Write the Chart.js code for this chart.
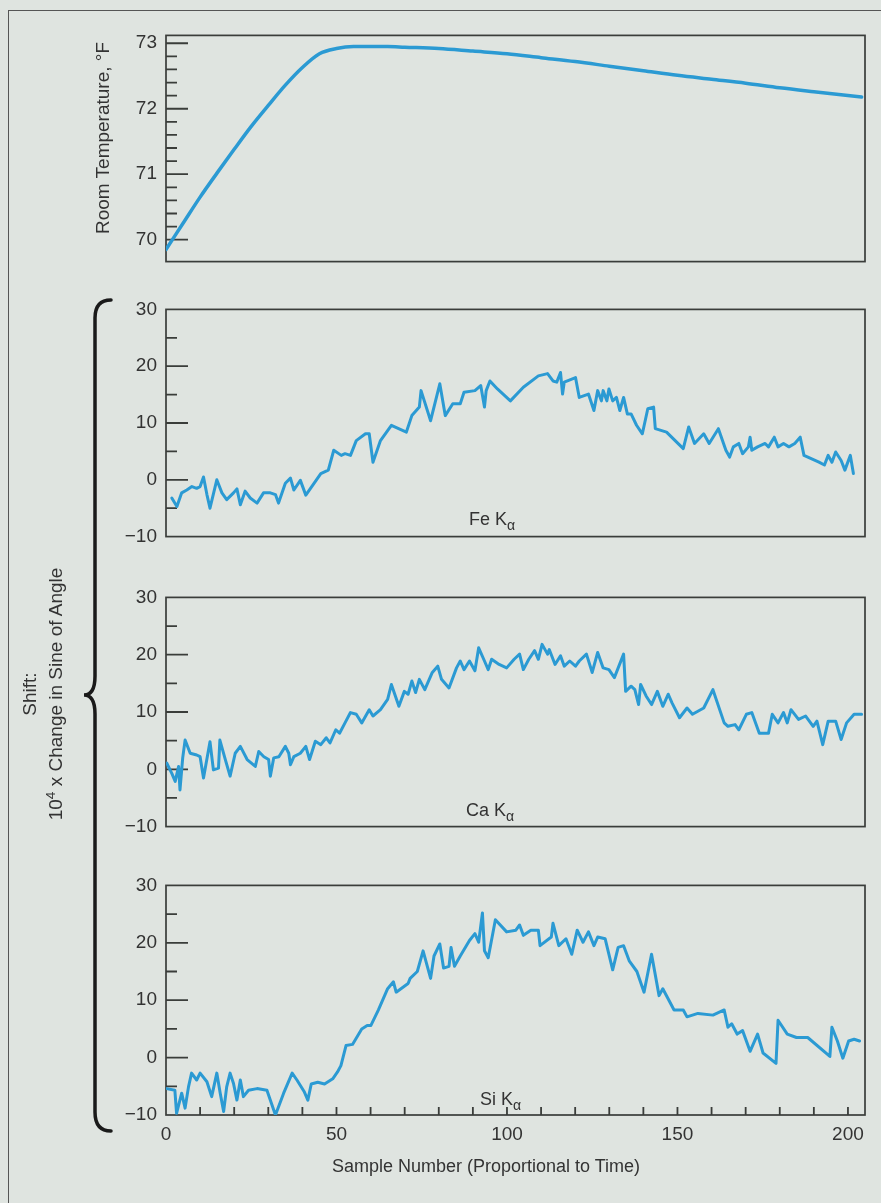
<!DOCTYPE html>
<html>
<head>
<meta charset="utf-8">
<script src="https://cdn.jsdelivr.net/npm/chart.js@4.4.0/dist/chart.umd.min.js"></script>
<style>
  html, body { margin:0; padding:0; width:881px; height:1203px; overflow:hidden; background:#dfe4e0;
    font-family:"Liberation Sans", Arial, Helvetica, sans-serif; color:#333; }
  #frame { position:absolute; left:8px; top:10px; width:900px; height:1260px;
    border-left:1.5px solid #555; border-top:1.5px solid #555; }
  canvas { position:absolute; }
  .t { position:absolute; white-space:nowrap; color:#333; line-height:18px; font-size:18px; }
  .rot { transform:translate(-50%,-50%) rotate(-90deg); line-height:20px; font-size:19px; }
  sub { font-size:0.78em; vertical-align:-0.38em; line-height:0; }
  sup { font-size:0.72em; vertical-align:0.5em; line-height:0; }
  #brace { position:absolute; left:0; top:0; }
</style>
</head>
<body>
<div id="frame"></div>

<canvas id="cTemp" width="781" height="267" style="left:100px;top:15px;width:781px;height:267px"></canvas>
<canvas id="cFe" width="781" height="268" style="left:100px;top:289px;width:781px;height:268px"></canvas>
<canvas id="cCa" width="781" height="270" style="left:100px;top:577px;width:781px;height:270px"></canvas>
<canvas id="cSi" width="781" height="290" style="left:100px;top:865px;width:781px;height:290px"></canvas>

<svg id="brace" width="881" height="1203">
  <path d="M 111 300 Q 95 300 95 318 L 95 676 Q 95 695 84 695 Q 95 695 95 714 L 95 1112 Q 95 1131 111 1131"
        fill="none" stroke="#1a1a1a" stroke-width="3.5" stroke-linecap="round"/>
</svg>

<div class="t rot" style="left:103px;top:138px;">Room Temperature, °F</div>
<div class="t rot" style="left:30px;top:694px;">Shift:</div>
<div class="t rot" style="left:56px;top:694px;">10<sup>4</sup> x Change in Sine of Angle</div>

<div class="t" style="left:469px;top:510px;">Fe K<sub>α</sub></div>
<div class="t" style="left:466px;top:801px;">Ca K<sub>α</sub></div>
<div class="t" style="left:480px;top:1090px;">Si K<sub>α</sub></div>

<div class="t" style="left:332px;top:1156px;line-height:20px;">Sample Number (Proportional to Time)</div>

<script>
// ---------- axis ticks / labels ----------
const sampleTicks = [0, 50, 100, 150, 200];
const sampleTickLabels = ['0', '50', '100', '150', '200'];
const sampleMarks = [10,20,30,40,50,60,70,80,90,100,110,120,130,140,150,160,170,180,190,200];

const tempTicks = [70, 71, 72, 73];
const tempTickLabels = ['70', '71', '72', '73'];
const tempMinor = [70.2,70.4,70.6,70.8,71.2,71.4,71.6,71.8,72.2,72.4,72.6,72.8];

const shiftTicks = [-10, 0, 10, 20, 30];
const shiftTickLabels = ['\u221210', '0', '10', '20', '30'];
const shiftMajor = [0, 10, 20];
const shiftMinor = [-5, 5, 15, 25];

// ---------- data ----------
const tempX = [0,5,10,15,20,25,30,35,40,45,50,55,60,65,70,80,90,100,110,120,130,140,150,160,170,180,190,204];
const tempY = [69.85,70.25,70.65,71.02,71.38,71.73,72.05,72.36,72.63,72.84,72.92,72.95,72.95,72.95,72.94,72.92,72.88,72.84,72.78,72.72,72.65,72.58,72.51,72.45,72.39,72.32,72.26,72.18];

const feX = [1.7,3.2,4.6,6.1,7.6,9.0,10.0,11.0,12.0,12.9,14.9,16.4,17.8,19.8,20.8,21.8,23.2,24.7,26.7,28.6,30.6,32.1,33.0,35.0,36.5,37.5,
  39.4,41.0,45.4,47.6,49.2,51.4,52.5,54.1,55.8,58.5,59.6,60.7,62.9,66.1,70.5,72.1,74.3,74.8,77.6,80.3,81.9,84.1,86.3,87.4,
  90.6,92.3,93.4,93.9,95.0,97.2,101.0,104.8,109.2,111.9,113.5,114.6,115.7,116.3,116.8,120.1,121.2,123.9,
  125.5,126.6,127.7,128.2,129.3,129.9,131.0,132.1,133.1,134.2,135.3,136.4,138.0,139.7,141.3,143.0,143.5,146.8,151.7,153.3,155.0,157.7,159.3,162.0,
  164.2,165.3,166.4,168.0,169.1,170.8,171.3,171.8,173.5,175.7,176.7,178.4,179.5,181.1,182.7,184.4,186.0,187.1,191.5,193.1,194.2,195.3,196.4,198.0,199.1,200.7,201.6];
const feY = [-3.2,-4.7,-2.3,-1.8,-1.2,-1.5,-1.2,0.5,-2.6,-5.0,0.0,-2.3,-3.5,-2.3,-1.6,-4.4,-2.0,-3.2,-4.1,-2.3,-2.3,-2.6,-4.1,-0.6,0.3,-1.8,
  -0.1,-2.7,1.1,1.7,5.2,4.3,4.6,4.3,6.9,8.1,8.1,3.1,6.9,9.6,8.4,11.3,12.8,15.7,10.4,16.9,11.3,13.4,13.4,15.4,
  15.7,16.6,12.8,15.7,17.4,16.0,13.9,16.3,18.3,18.7,17.4,17.2,18.9,15.1,17.2,18.0,14.5,15.1,
  12.2,15.7,13.9,15.7,13.9,16.0,13.9,14.5,12.2,14.5,11.6,11.6,9.6,8.1,12.5,12.8,9.0,8.4,5.5,9.3,6.4,8.1,6.4,9.0,
  5.2,4.0,5.8,6.4,4.6,5.8,7.5,5.2,5.8,6.4,5.8,7.5,5.8,6.4,5.8,6.4,7.5,4.3,3.1,2.6,4.3,3.1,4.9,3.4,1.7,4.3,1.1];

const caX = [0.2,1.7,2.7,3.7,4.1,4.9,5.6,7.1,9.0,10.0,11.0,12.9,13.9,15.4,15.8,17.4,18.8,20.3,21.8,23.8,26.2,27.2,28.7,30.1,30.6,31.6,33.1,35.0,36.0,36.5,37.5,
  39.4,41.0,42.1,43.8,45.4,47.0,48.1,49.8,50.9,52.5,54.1,55.8,57.4,59.6,60.7,62.9,65.0,66.1,68.3,69.9,
  71.0,72.1,73.2,74.3,75.9,78.1,79.7,80.8,83.0,85.2,86.3,87.4,89.0,90.6,91.7,93.4,94.5,95.5,97.7,99.9,
  102.1,103.7,104.8,106.4,108.1,109.2,110.3,111.9,112.4,114.1,115.7,116.8,118.4,120.1,121.2,123.3,125.0,126.6,128.2,129.9,
  131.5,134.2,134.8,136.4,137.5,138.6,139.2,140.8,142.4,144.1,145.7,147.3,148.4,150.6,152.8,154.4,157.7,160.4,163.7,164.8,
  166.9,168.0,170.2,171.8,174.0,176.7,177.8,179.5,181.1,182.2,183.3,185.5,187.6,189.8,190.9,192.6,194.2,196.4,198.0,199.6,201.8,204.0];
const caY = [1.1,-0.7,-2.1,0.5,-3.6,2.0,5.1,2.8,2.5,2.2,-1.5,4.8,-0.1,0.2,5.1,1.7,-1.2,2.8,4.0,1.7,0.5,3.1,2.2,1.7,-1.2,2.0,2.2,4.0,2.8,0.8,2.2,
  2.8,4.0,1.7,4.9,4.3,5.5,4.6,6.9,6.3,8.1,9.9,9.6,8.1,10.4,9.3,10.4,12.2,14.8,11.0,13.6,
  13.1,15.4,13.4,15.7,13.9,16.9,18.0,15.7,14.2,17.7,18.9,17.4,18.9,17.2,21.2,18.9,17.4,19.2,18.3,17.7,
  19.2,20.1,17.4,19.2,20.7,19.2,21.8,20.1,20.9,18.3,19.8,18.0,18.9,18.0,18.9,20.1,16.9,20.4,17.7,17.4,
  16.0,20.1,13.6,14.5,13.9,11.3,14.8,12.8,11.3,13.6,11.0,13.1,11.6,9.0,10.7,9.6,10.7,13.9,8.1,7.5,
  7.8,6.9,9.6,9.9,6.3,6.3,9.6,8.1,9.9,8.1,10.4,8.7,9.3,7.5,8.4,4.3,8.4,8.4,5.2,8.1,9.6,9.6];

const siX = [0.2,2.6,3.1,4.6,5.6,6.6,7.5,9.0,10.0,12.0,13.4,14.9,15.9,16.9,17.8,18.8,19.8,20.8,21.8,22.7,24.2,26.7,29.6,32.1,34.5,37.0,38.4,
  40.5,41.6,42.6,44.5,46.5,48.9,50.3,51.3,52.8,
  54.7,57.4,59.0,60.1,62.3,65.0,66.7,67.5,71.0,71.6,73.7,75.4,77.6,78.6,80.3,81.4,83.0,83.6,84.6,86.3,
  89.0,90.6,91.7,92.8,93.4,94.5,96.6,99.9,102.6,103.7,104.8,107.0,109.2,109.7,113.0,113.5,115.2,117.3,119.0,120.6,
  122.3,123.9,125.5,126.6,128.8,131.0,132.6,134.2,135.9,138.1,140.2,142.4,144.6,145.7,149.0,151.7,152.8,156.0,160.4,163.7,
  164.8,165.9,167.5,169.1,171.3,173.5,175.1,178.9,179.5,182.2,184.9,188.2,194.7,195.3,196.9,198.5,200.2,201.8,203.4];
const siY = [-5.4,-5.7,-9.7,-6.2,-8.8,-5.1,-2.7,-3.9,-2.7,-4.2,-6.8,-2.7,-6.2,-9.4,-5.1,-2.7,-4.5,-7.4,-3.9,-6.8,-5.7,-5.4,-5.7,-10.0,-6.2,-2.7,-3.9,
  -5.9,-7.4,-4.6,-4.3,-4.6,-3.7,-2.5,-1.4,2.1,
  2.3,5.0,5.6,5.6,8.3,12.0,13.2,11.4,12.9,13.8,15.0,18.6,13.8,17.7,19.8,15.6,15.9,19.2,15.9,17.7,
  20.4,21.6,20.1,25.2,18.6,17.4,24.0,21.9,22.2,23.1,21.3,22.2,22.2,19.5,21.0,23.4,19.5,20.7,18.0,22.2,
  20.1,21.9,19.5,21.0,20.7,15.3,19.2,19.5,16.8,15.0,11.4,18.0,10.8,12.0,8.3,8.3,7.1,7.7,7.4,8.3,
  5.3,5.9,4.1,4.7,1.1,4.1,0.8,-1.0,6.5,4.1,3.5,3.5,0.2,5.3,2.9,-0.1,2.9,3.2,2.9];

// ---------- styling ----------
const LINE = '#2b9ad3';
const TXT = '#333333';
const FONT = '"Liberation Sans", Arial, Helvetica, sans-serif';
Chart.defaults.font.family = FONT;
Chart.defaults.color = TXT;

const inwardTicks = {
  id: 'inwardTicks',
  beforeDatasetsDraw(chart, args, o) {
    const { ctx, chartArea: a, scales: { x, y } } = chart;
    ctx.save();
    ctx.strokeStyle = '#3a3d3a';
    ctx.lineWidth = 1.7;
    ctx.strokeRect(a.left, a.top, a.right - a.left, a.bottom - a.top);
    ctx.lineWidth = 1.8;
    ctx.beginPath();
    (o.yMajor || []).forEach(v => {
      const py = y.getPixelForValue(v);
      ctx.moveTo(a.left, py); ctx.lineTo(a.left + 22, py);
    });
    (o.yMinor || []).forEach(v => {
      const py = y.getPixelForValue(v);
      ctx.moveTo(a.left, py); ctx.lineTo(a.left + 11, py);
    });
    (o.xMarks || []).forEach(v => {
      const px = x.getPixelForValue(v);
      ctx.moveTo(px, a.bottom); ctx.lineTo(px, a.bottom - 8);
    });
    ctx.stroke();
    ctx.restore();
  }
};

function build(id, xs, ys, cfg) {
  const pts = xs.map((x, i) => ({ x: x, y: ys[i] }));
  return new Chart(document.getElementById(id), {
    type: 'line',
    data: { datasets: [{
      data: pts, borderColor: LINE, borderWidth: cfg.lw || 3, pointRadius: 0, fill: false,
      tension: cfg.smooth ? 0.4 : 0, cubicInterpolationMode: cfg.smooth ? 'monotone' : 'default',
      borderJoinStyle: 'round', borderCapStyle: 'round'
    }] },
    options: {
      responsive: false, animation: false, events: [],
      layout: { padding: cfg.padding },
      plugins: {
        legend: { display: false }, tooltip: { enabled: false },
        inwardTicks: { yMajor: cfg.yMajor, yMinor: cfg.yMinor, xMarks: cfg.xMarks }
      },
      scales: {
        x: {
          type: 'linear', min: 0, max: 205, display: !!cfg.showX,
          afterBuildTicks: s => { s.ticks = sampleTicks.map(v => ({ value: v })); },
          afterFit: s => { if (cfg.showX) s.height = 30; },
          grid: { display: false, drawTicks: false }, border: { display: false },
          ticks: { padding: 8, color: TXT, font: { size: 19 }, maxRotation: 0, autoSkip: false,
                   callback: (v, i) => sampleTickLabels[i] }
        },
        y: {
          type: 'linear', min: cfg.yMin, max: cfg.yMax,
          afterBuildTicks: s => { s.ticks = cfg.yTicks.map(v => ({ value: v })); },
          afterFit: s => { s.width = 66; },
          grid: { display: false, drawTicks: false }, border: { display: false },
          ticks: { padding: 9, color: TXT, font: { size: 19 }, autoSkip: false,
                   callback: (v, i) => cfg.yLabels[i] }
        }
      }
    },
    plugins: [inwardTicks]
  });
}

build('cTemp', tempX, tempY, {
  yMin: 69.665, yMax: 73.12, yTicks: tempTicks, yLabels: tempTickLabels,
  yMajor: tempTicks, yMinor: tempMinor, smooth: true, lw: 3.5,
  padding: { top: 20, right: 16, bottom: 20, left: 0 }
});
build('cFe', feX, feY, {
  yMin: -10, yMax: 30, yTicks: shiftTicks, yLabels: shiftTickLabels,
  yMajor: shiftMajor, yMinor: shiftMinor,
  padding: { top: 20, right: 16, bottom: 20, left: 0 }
});
build('cCa', caX, caY, {
  yMin: -10, yMax: 30, yTicks: shiftTicks, yLabels: shiftTickLabels,
  yMajor: shiftMajor, yMinor: shiftMinor,
  padding: { top: 20, right: 16, bottom: 20, left: 0 }
});
build('cSi', siX, siY, {
  yMin: -10, yMax: 30, yTicks: shiftTicks, yLabels: shiftTickLabels,
  yMajor: shiftMajor, yMinor: shiftMinor, xMarks: sampleMarks, showX: true,
  padding: { top: 20, right: 16, bottom: 10, left: 0 }
});
</script>
</body>
</html>
